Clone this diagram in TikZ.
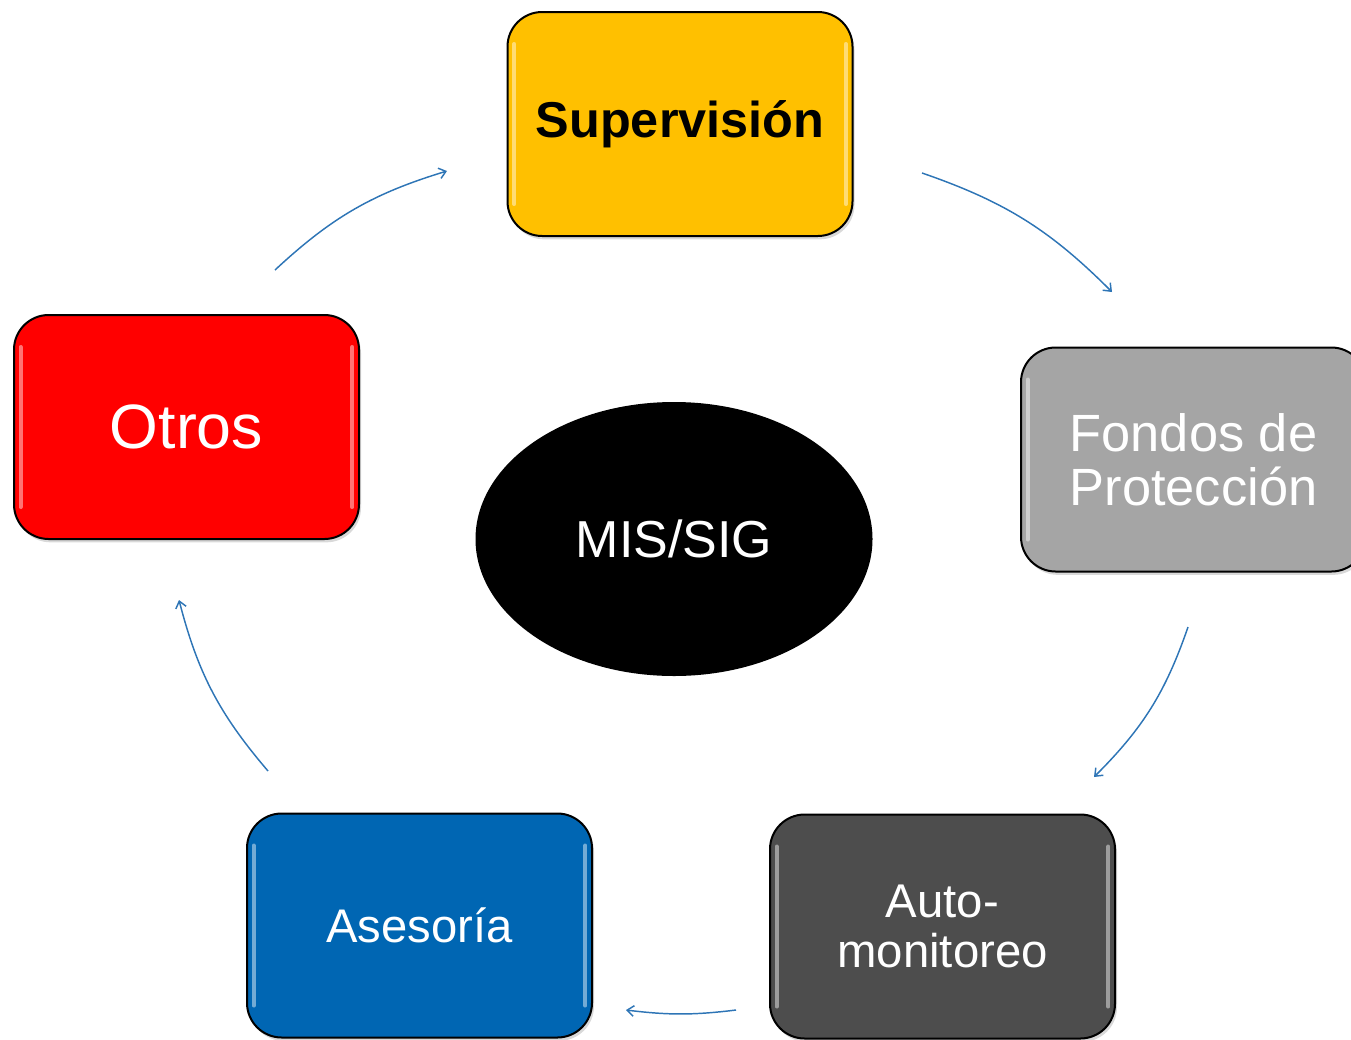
\documentclass[tikz,border=0pt]{standalone}
\usepackage{fontspec}
\setmainfont{Liberation Sans}
\usetikzlibrary{arrows.meta,shadows,shapes.geometric}
\definecolor{supyellow}{HTML}{FFC000}
\definecolor{fondgray}{HTML}{A5A5A5}
\definecolor{autogray}{HTML}{4D4D4D}
\definecolor{asesblue}{HTML}{0066B3}
\definecolor{otrored}{HTML}{FF0000}
\definecolor{arrowblue}{HTML}{2E75B6}
\begin{document}
\begin{tikzpicture}[x=0.75pt,y=-0.75pt,
  box/.style={draw=black, line width=1.5pt, rounded corners=26pt,
    minimum width=258.75pt, minimum height=168pt, inner sep=0pt, align=center,
    text=white,
    drop shadow={shadow xshift=1.5pt, shadow yshift=-2.5pt, opacity=0.3},
    path picture={
      \draw[white, line width=3pt, opacity=0.45, line cap=round]
        ([xshift=5pt,yshift=-24pt]path picture bounding box.north west) --
        ([xshift=5pt,yshift=24pt]path picture bounding box.south west);
      \draw[white, line width=3pt, opacity=0.45, line cap=round]
        ([xshift=-5pt,yshift=-24pt]path picture bounding box.north east) --
        ([xshift=-5pt,yshift=24pt]path picture bounding box.south east);
    }},
  flow/.style={draw=arrowblue, line width=1.1pt,
    -{Straight Barb[length=5pt,width=8pt,line width=1.1pt]}, bend left=13}
]
\useasboundingbox (0,0) rectangle (1351,1039);
\clip (0,0) rectangle (1351,1039);

\node[box, fill=supyellow, text=black, font=\fontsize{37.8pt}{40pt}\selectfont\bfseries]
  (sup) at (680,124) {Supervisión};
\node[box, fill=fondgray, font=\fontsize{39.3pt}{40.5pt}\selectfont]
  (fon) at (1193.5,459.5) {Fondos de\\Protección};
\node[box, fill=autogray, font=\fontsize{35.5pt}{37.5pt}\selectfont]
  (aut) at (942.5,926.5) {Auto-\\monitoreo};
\node[box, fill=asesblue, font=\fontsize{35.4pt}{37.5pt}\selectfont]
  (ase) at (419.5,925.5) {Asesoría};
\node[box, fill=otrored, font=\fontsize{47pt}{50pt}\selectfont]
  (otr) at (186.5,427) {Otros};

\node[ellipse, fill=black, minimum width=297.75pt, minimum height=205.5pt,
  inner sep=0pt, text=white, font=\fontsize{39pt}{42pt}\selectfont]
  (mis) at (674,539) {MIS/SIG};

\coordinate (a1s) at (275,270);  \coordinate (a1e) at (447,171);
\coordinate (a2s) at (922,173);  \coordinate (a2e) at (1112,292);
\coordinate (a3s) at (1188,627); \coordinate (a3e) at (1094,777);
\coordinate (a4s) at (736,1010); \coordinate (a4e) at (626,1010);
\coordinate (a5s) at (268,771);  \coordinate (a5e) at (179,600);

\draw[flow] (a1s) to (a1e);
\draw[flow] (a2s) to (a2e);
\draw[flow] (a3s) to (a3e);
\draw[flow, bend left=7] (a4s) to (a4e);
\draw[flow] (a5s) to (a5e);
\end{tikzpicture}
\end{document}
